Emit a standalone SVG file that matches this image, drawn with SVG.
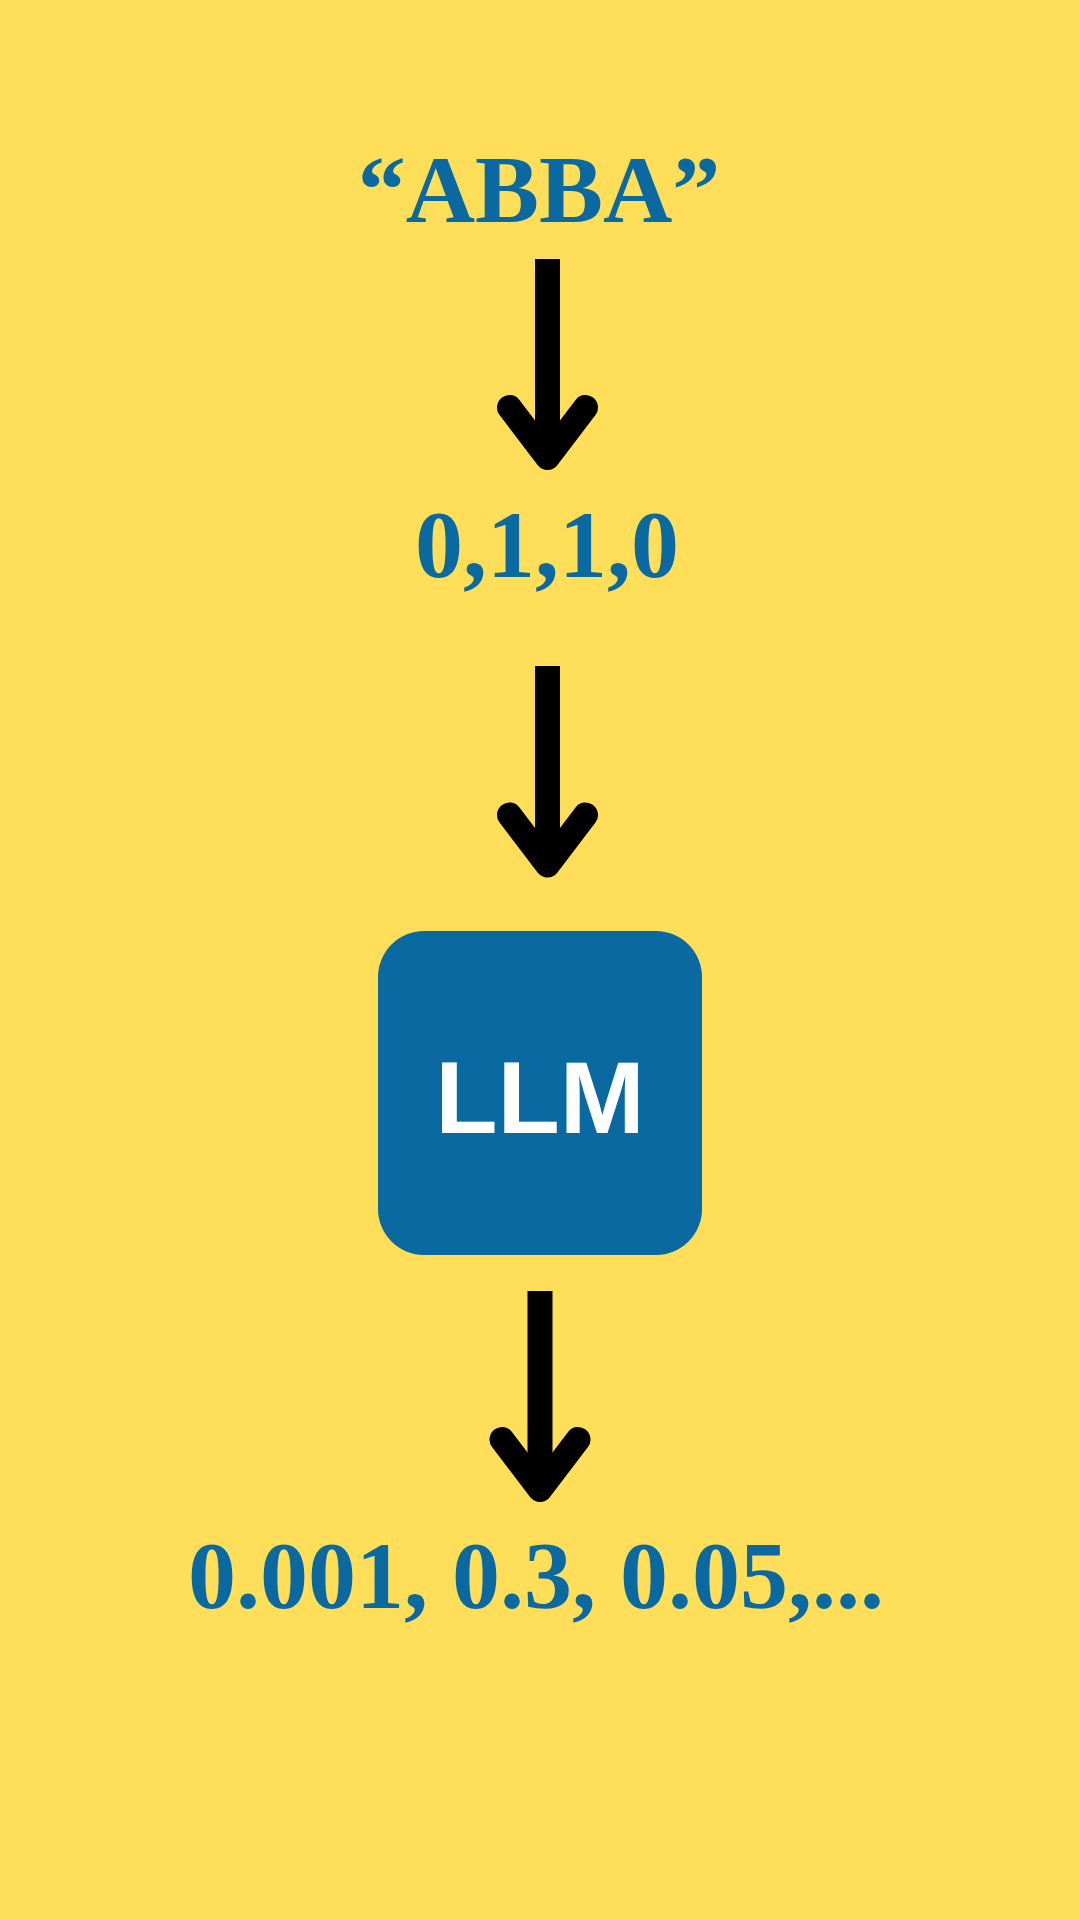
<svg xmlns="http://www.w3.org/2000/svg" width="1080" height="1920" viewBox="0 0 1080 1920">
  <style>
    .lbl { font-family: "Liberation Serif", "Times New Roman", serif; font-weight: bold; font-size: 96px; fill: #0B69A1; text-anchor: middle; }
    .shaft { fill: none; stroke: #000; stroke-width: 25; stroke-linecap: butt; }
    .head { fill: none; stroke: #000; stroke-width: 25; stroke-linecap: round; stroke-linejoin: round; }
    .box { fill: #0B69A1; }
    .boxtxt { font-family: "Liberation Sans", Arial, sans-serif; font-weight: bold; font-size: 102px; fill: #FFFFFF; text-anchor: middle; }
  </style>
  <rect x="0" y="0" width="1080" height="1920" fill="#FFDE59"/>
  <g id="node-abba">
    <text class="lbl" x="539" y="221.7">“ABBA”</text>
  </g>
  <g id="node-tokens">
    <text class="lbl" x="547" y="576.7">0,1,1,0</text>
  </g>
  <g id="node-llm">
    <rect class="box" x="378" y="931" width="324" height="324" rx="46" ry="46"/>
    <text class="boxtxt" x="540" y="1133">LLM</text>
  </g>
  <g id="node-probs">
    <text class="lbl" x="536" y="1608">0.001, 0.3, 0.05,...</text>
  </g>
  <g id="connectors">
    <path class="shaft" d="M547.5 259 V457.5"/>
    <path class="head" d="M509.5 407.5 L547.5 457.5 L585.5 407.5"/>
    <path class="shaft" d="M547.5 666 V865"/>
    <path class="head" d="M509.5 815 L547.5 865 L585.5 815"/>
    <path class="shaft" d="M540 1291 V1489.5"/>
    <path class="head" d="M502 1439.5 L540 1489.5 L578 1439.5"/>
  </g>
</svg>
